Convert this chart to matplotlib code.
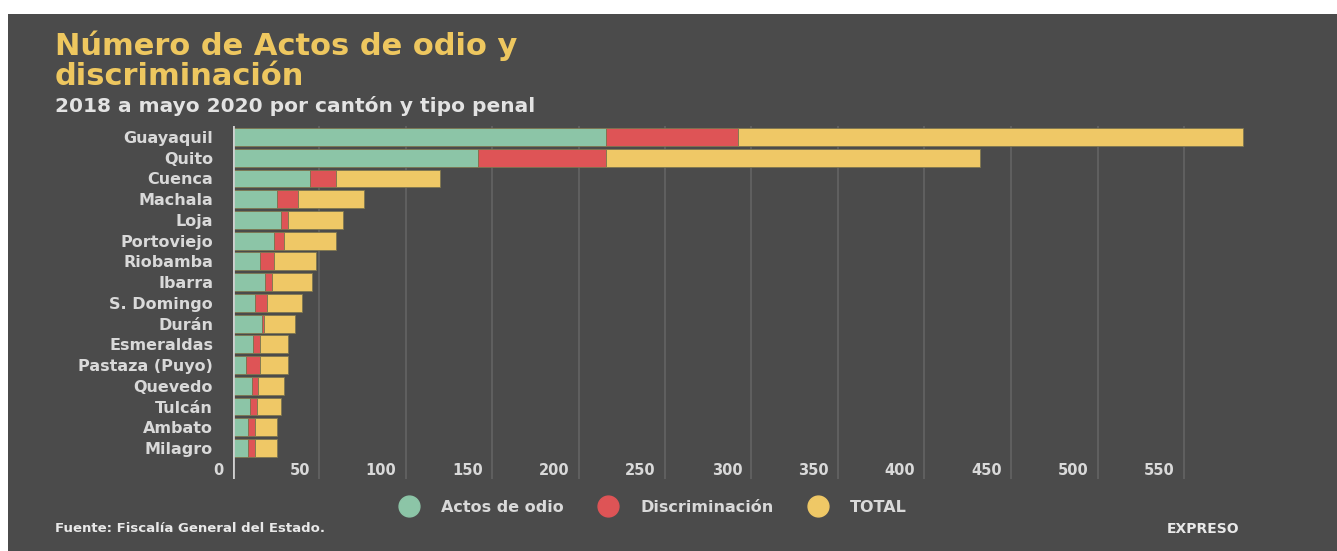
import numpy as np
import matplotlib
matplotlib.use('Agg')
import matplotlib.pyplot as plt
from matplotlib.patches import Rectangle
from matplotlib.lines import Line2D

cantones = ['Guayaquil', 'Quito', 'Cuenca', 'Machala', 'Loja', 'Portoviejo', 'Riobamba',
            'Ibarra', 'S. Domingo', 'Durán', 'Esmeraldas', 'Pastaza (Puyo)', 'Quevedo',
            'Tulcán', 'Ambato', 'Milagro']
actos_odio = [216, 142, 45, 26, 28, 24, 16, 19, 13, 17, 12, 8, 11, 10, 9, 9]
discriminacion = [76, 74, 15, 12, 4, 6, 8, 4, 7, 1, 4, 8, 4, 4, 4, 4]
total = [292, 216, 60, 38, 32, 30, 24, 23, 20, 18, 16, 16, 15, 14, 13, 13]
ticks = [0, 50, 100, 150, 200, 250, 300, 350, 400, 450, 500, 550]

bg = '#4b4b4b'
c_odio = '#8cc5a7'
c_disc = '#de5456'
c_total = '#efc866'
txt = '#d9d9d9'
yellow = '#eec75f'

W, H = 1337, 551
fig = plt.figure(figsize=(W / 100, H / 100), dpi=100)
fig.patch.set_facecolor('white')
fig.patches.append(Rectangle((8 / W, 0), 1, 1 - 14 / H, transform=fig.transFigure,
                             facecolor=bg, edgecolor='none', zorder=-10))

# axes in pixel terms: x=0 at 232.5 px, 1.73 px per unit
x0 = 232.5
ppu = 1.73
xmax = 620
left = x0 / W
width = xmax * ppu / W
top_px, bot_px = 126, 479
ax = fig.add_axes([left, 1 - bot_px / H, width, (bot_px - top_px) / H])
ax.set_facecolor('none')
ax.set_zorder(2)

y = np.arange(len(cantones))
odio = np.array(actos_odio)
disc = np.array(discriminacion)
tot = np.array(total)
h = 0.86
ec = '#7d7550'
ax.barh(y, odio, h, color=c_odio, edgecolor=ec, linewidth=0.6, zorder=3)
ax.barh(y, disc, h, left=odio, color=c_disc, edgecolor=ec, linewidth=0.6, zorder=3)
ax.barh(y, tot, h, left=odio + disc, color=c_total, edgecolor=ec, linewidth=0.6, zorder=3)

pitch = 20.67
ytop = -0.5 - (138 - 10.3 - top_px) / pitch + 0.05
ybot = (bot_px - 138) / pitch
ax.set_ylim(ybot, ytop)
ax.set_xlim(0, xmax)

for t in ticks[1:]:
    ax.axvline(t, color='#646464', linewidth=1.2, zorder=1)
ax.axvline(0, color='#cfcfcf', linewidth=2, zorder=4)

ax.set_xticks([])
ax.set_yticks(y)
ax.set_yticklabels(cantones, fontsize=11.5, fontweight='bold', color=txt)
ax.tick_params(axis='y', length=0, pad=14)
for s in ax.spines.values():
    s.set_visible(False)

# x tick labels sit just left of each gridline, near the bottom
ylab = (471 - 138) / pitch
for t in ticks:
    ax.text(t - 9 / ppu, ylab, str(t), ha='right', va='center', fontsize=10.5,
            fontweight='bold', color=txt, zorder=5)

fig.text(55 / W, 1 - 46 / H, 'Número de Actos de odio y', fontsize=22, fontweight='bold',
         color=yellow, va='center', ha='left')
fig.text(55 / W, 1 - 76 / H, 'discriminación', fontsize=22, fontweight='bold',
         color=yellow, va='center', ha='left')
fig.text(55 / W, 1 - 106 / H, '2018 a mayo 2020 por cantón y tipo penal', fontsize=14.5,
         fontweight='bold', color='#e3e3e3', va='center', ha='left')

handles = [Line2D([], [], marker='o', linestyle='none', markersize=15, color=c)
           for c in (c_odio, c_disc, c_total)]
fig.legend(handles, ['Actos de odio', 'Discriminación', 'TOTAL'], loc='center',
           bbox_to_anchor=(650 / W, 1 - 507 / H), ncol=3, frameon=False,
           labelcolor=txt, prop={'weight': 'bold', 'size': 11.5}, handletextpad=1.0,
           columnspacing=1.8)

fig.text(55 / W, 1 - 529 / H, 'Fuente: Fiscalía General del Estado.', fontsize=9.5,
         fontweight='bold', color='#e8e8e8', va='center', ha='left')
fig.text(1203 / W, 1 - 529 / H, 'EXPRESO', fontsize=10, fontweight='bold',
         color='#e8e8e8', va='center', ha='center')

fig.savefig('out.png', dpi=100, facecolor=fig.get_facecolor())
